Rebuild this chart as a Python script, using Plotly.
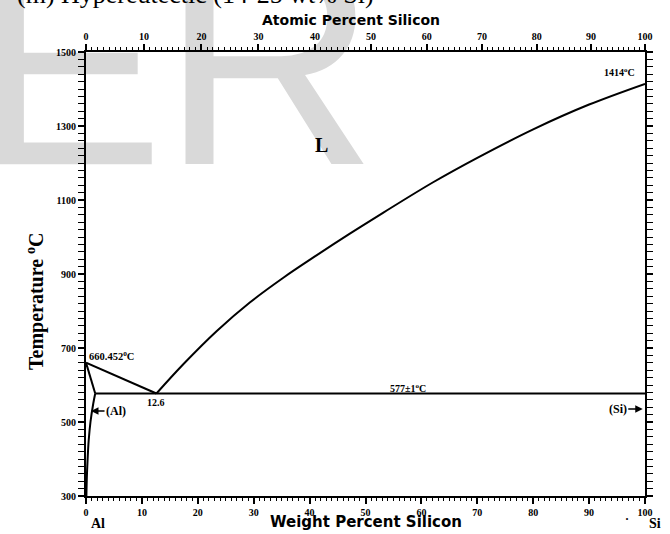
import plotly.graph_objects as go

# ---- data ----
liq_al_wt = [0.0, 12.6]
liq_al_T = [660.452, 577]
liq_si_wt = [12.6, 17.4, 23.4, 29.3, 35.3, 41.3, 47.2, 53.2, 62.1, 70, 80, 90, 100]
liq_si_T = [577, 656, 746, 823, 890, 951, 1009, 1066, 1148, 1214, 1291, 1358, 1414]
eut_wt = [1.65, 100]
eut_T = [577, 577]
solidus_wt = [0.0, 1.65]
solidus_T = [660.452, 577]
solvus_wt = [1.65, 1.3, 0.8, 0.48, 0.29, 0.15, 0.07]
solvus_T = [577, 550, 500, 450, 400, 350, 300]

x_ticks = list(range(0, 101, 10))
y_ticks = list(range(300, 1501, 200))
at_ticks = list(range(0, 101, 10))
M_SI, M_AL = 28.0855, 26.9815


def at_to_wt(a):
    return 100.0 * a * M_SI / (a * M_SI + (100 - a) * M_AL)


SERIF = "Liberation Serif"
fig = go.Figure()

# watermark letters
fig.add_trace(go.Scatter(x=[13.95], y=[1389], mode="text", text=["E"],
                         textposition="middle left",
                         textfont=dict(family="Liberation Sans", size=285, color="#d9d9d9"),
                         cliponaxis=False, hoverinfo="skip", showlegend=False))
fig.add_trace(go.Scatter(x=[13.4], y=[1400], mode="text", text=["R"],
                         textposition="middle right",
                         textfont=dict(family="Liberation Sans", size=300, color="#d9d9d9"),
                         cliponaxis=False, hoverinfo="skip", showlegend=False))

line = dict(color="black", width=2)
for xs, ys, shp in [(liq_al_wt, liq_al_T, "linear"), (liq_si_wt, liq_si_T, "spline"),
                    (eut_wt, eut_T, "linear"), (solidus_wt, solidus_T, "linear"),
                    (solvus_wt, solvus_T, "spline")]:
    fig.add_trace(go.Scatter(x=xs, y=ys, mode="lines", line=dict(line, shape=shp),
                             hoverinfo="skip", showlegend=False))

# dummy trace to activate top axis
fig.add_trace(go.Scatter(x=[0], y=[300], xaxis="x2", mode="markers",
                         marker=dict(opacity=0), hoverinfo="skip", showlegend=False))

tickfont = dict(family=SERIF, size=10, color="black", weight="bold")
fig.update_layout(
    width=670, height=534,
    margin=dict(l=86, r=25, t=52, b=38),
    paper_bgcolor="white", plot_bgcolor="rgba(0,0,0,0)",
    xaxis=dict(range=[0, 100], tickvals=x_ticks, showgrid=False, zeroline=False,
               showline=True, linecolor="black", linewidth=2,
               ticks="outside", ticklen=6, tickwidth=1.5, tickcolor="black",
               minor=dict(dtick=1, ticks="outside", ticklen=3, tickcolor="black", tickwidth=1),
               tickfont=tickfont),
    xaxis2=dict(range=[0, 100], overlaying="x", side="top",
                tickvals=[at_to_wt(a) for a in at_ticks], ticktext=[str(a) for a in at_ticks],
                showgrid=False, zeroline=False,
                showline=True, linecolor="black", linewidth=2,
                ticks="outside", ticklen=6, tickwidth=1.5, tickcolor="black",
                minor=dict(tickvals=[at_to_wt(a) for a in range(0, 101)], ticks="outside",
                           ticklen=3, tickcolor="black", tickwidth=1),
                tickfont=tickfont),
    yaxis=dict(range=[300, 1500], tickvals=y_ticks, showgrid=False, zeroline=False,
               showline=True, linecolor="black", linewidth=2, mirror="allticks",
               ticks="outside", ticklen=6, tickwidth=1.5, tickcolor="black",
               minor=dict(dtick=20, ticks="outside", ticklen=3, tickcolor="black", tickwidth=1),
               tickfont=tickfont),
)


def px2paper(px, py):
    return (px - 86) / 559.0, (496 - py) / 444.0


def ann_px(text, px, py, size, family=SERIF, weight="bold", **kw):
    x, y = px2paper(px, py)
    d = dict(text=text, x=x, y=y, xref="paper", yref="paper", showarrow=False,
             xanchor="center", yanchor="middle",
             font=dict(family=family, size=size, color="black", weight=weight))
    d.update(kw)
    fig.add_annotation(**d)


# page title (cut off at top)
x0, _ = px2paper(15, 0)
fig.add_annotation(text="(m) Hypereutectic (14-25 wt% Si)", x=x0, y=(496 - 11) / 444.0,
                   xref="paper", yref="paper", xanchor="left", yanchor="bottom",
                   showarrow=False, font=dict(family=SERIF, size=26, color="black"))

ann_px("Atomic Percent Silicon", 351, 20, 14, family="DejaVu Sans")
ann_px("Weight Percent Silicon", 366, 522, 15, family="DejaVu Sans")
ann_px("Temperature <sup>o</sup>C", 35, 301, 20, textangle=-90)
ann_px("Al", 98, 523, 14)
ann_px("Si", 655, 523, 14)
ann_px("·", 627, 519, 12)

# in-plot labels (data coordinates)
def ann_d(text, x, y, size, **kw):
    d = dict(text=text, x=x, y=y, showarrow=False,
             font=dict(family=SERIF, size=size, color="black", weight="bold"))
    d.update(kw)
    fig.add_annotation(**d)


ann_d("L", 42.2, 1248, 20)
ann_d("1414<sup>o</sup>C", 95.5, 1445, 10)
ann_d("660.452<sup>o</sup>C", 0.2, 679, 10.5, xanchor="left")
ann_d("12.6", 12.5, 553, 10)
ann_d("577±1<sup>o</sup>C", 57.6, 593, 10)
fig.add_annotation(text="(Al)", x=0.9, y=530, ax=25, ay=0, showarrow=True,
                   arrowhead=2, arrowsize=1, arrowwidth=1.5, arrowcolor="black",
                   font=dict(family=SERIF, size=12, color="black", weight="bold"))
fig.add_annotation(text="(Si)", x=99.6, y=535, ax=-25, ay=0, showarrow=True,
                   arrowhead=2, arrowsize=1, arrowwidth=1.5, arrowcolor="black",
                   font=dict(family=SERIF, size=12, color="black", weight="bold"))

fig.write_html("out.html", config={"displayModeBar": False},
               post_script="document.body.style.margin='0px';")
